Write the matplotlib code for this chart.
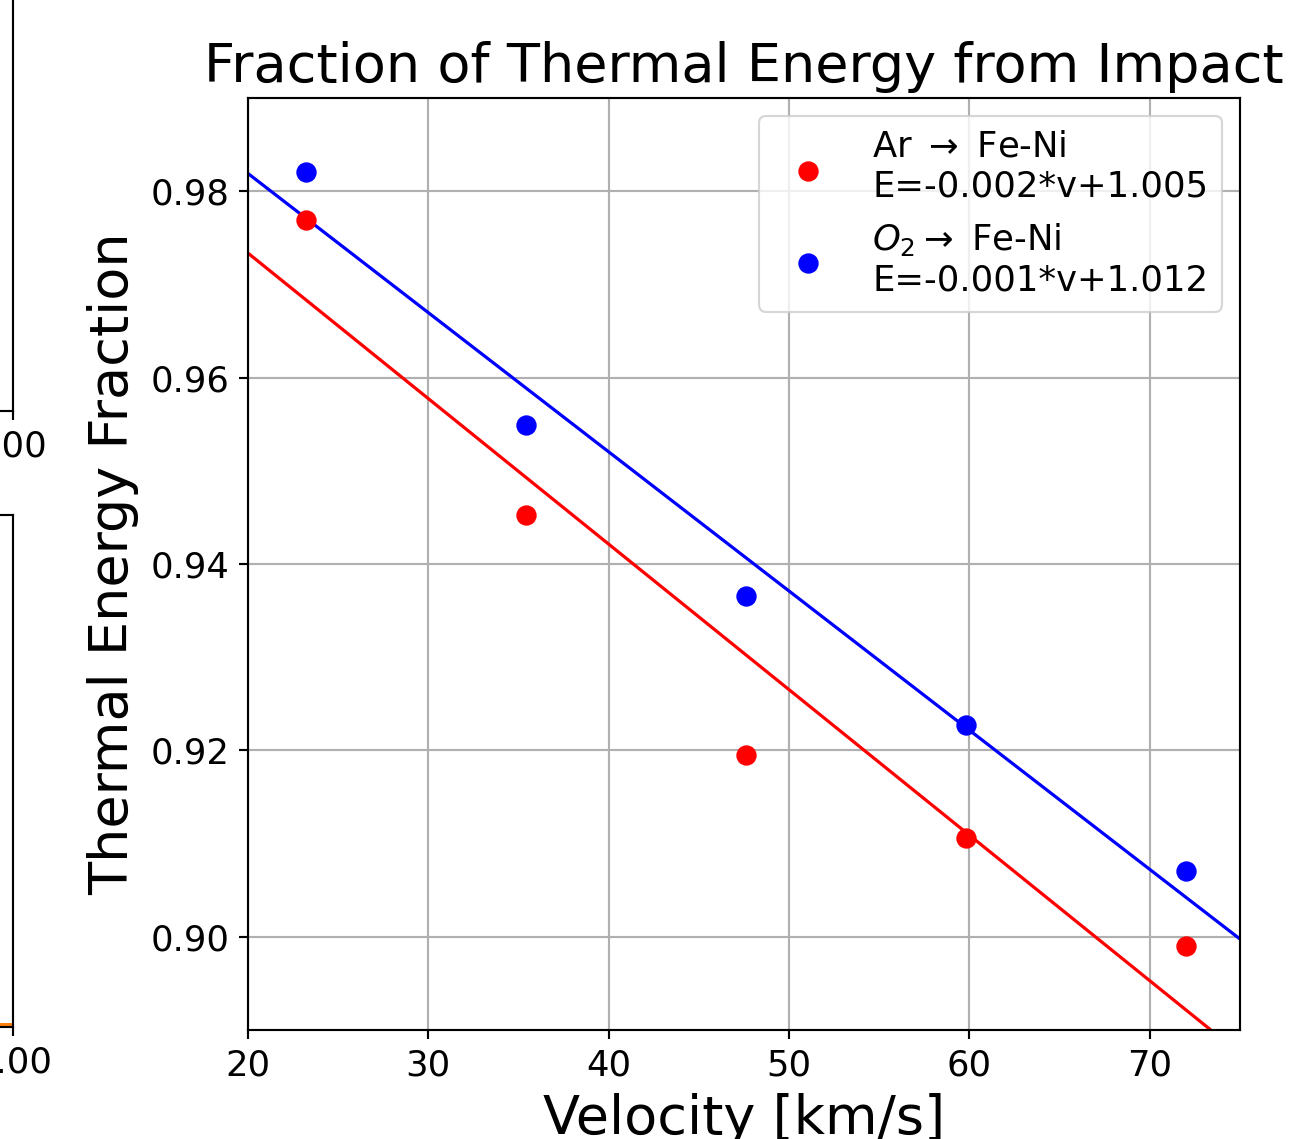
import matplotlib
matplotlib.use("Agg")
import matplotlib.pyplot as plt
import numpy as np

# impact velocities [km/s] and thermal energy fractions
velocity = [23.2, 35.4, 47.6, 59.8, 72.0]
ar_frac = [0.9769, 0.9453, 0.9195, 0.9106, 0.8990]
o2_frac = [0.9821, 0.9549, 0.9366, 0.9227, 0.9071]

ar_label = "Ar $\\rightarrow$ Fe-Ni\nE=-0.002*v+1.005"
o2_label = "$O_2 \\rightarrow$ Fe-Ni\nE=-0.001*v+1.012"

x_ticks = [20, 30, 40, 50, 60, 70]
y_ticks = [0.90, 0.92, 0.94, 0.96, 0.98]

# bits of the neighbouring panels that show at the left edge
frag_x = [0.0, 1.0]
frag_y = [0.0, 0.0]
frag_tick_top = ["100"]
frag_tick_bottom = ["1.00"]

k = 1.93  # scale of the original figure vs. matplotlib defaults at dpi 100
small = 25.5
big = 39.0
W, H = 1292, 1139

fig = plt.figure(figsize=(W / 100, H / 100), dpi=100)


def style(ax):
    for s in ax.spines.values():
        s.set_linewidth(0.8 * k)
    ax.tick_params(labelsize=small, length=3.5 * k, width=0.8 * k, pad=3.5 * k)


# fragments of other subplots
ax_a = fig.add_axes([-0.5, (H - 411) / H, 0.5 + 13 / W, 0.5])
ax_b = fig.add_axes([-0.5, (H - 1027) / H, 0.5 + 13 / W, (1027 - 515) / H])
for ax, labels in ((ax_a, frag_tick_top), (ax_b, frag_tick_bottom)):
    style(ax)
    ax.set_xlim(0, 1)
    ax.set_xticks([1.0])
    ax.set_xticklabels(labels)
    ax.set_yticks([])
ax_b.plot(frag_x, frag_y, color="C1", lw=1.5 * k)
ax_b.set_ylim(-0.01, 2.5)

# main panel
ax = fig.add_axes([248 / W, (H - 1030) / H, (1240 - 248) / W, (1030 - 98) / H])
style(ax)

xs = np.linspace(20, 75, 200)
for y, color, label in ((ar_frac, "red", ar_label), (o2_frac, "blue", o2_label)):
    ax.scatter(velocity, y, color=color, s=50 * k * k, label=label, zorder=3)
    m, b = np.polyfit(velocity, y, 1)
    ax.plot(xs, m * xs + b, color=color, lw=1.2 * k, zorder=2)

ax.set_xlim(20, 75)
ax.set_ylim(0.89, 0.99)
ax.set_xticks(x_ticks)
ax.set_yticks(y_ticks)
ax.set_yticklabels([f"{t:.2f}" for t in y_ticks])
ax.grid(True, lw=0.8 * k, color="#b0b0b0")
ax.set_axisbelow(True)

ax.set_title("Fraction of Thermal Energy from Impact", fontsize=big, pad=6 * k)
ax.set_xlabel("Velocity [km/s]", fontsize=big, labelpad=4 * k)
ax.set_ylabel("Thermal Energy Fraction", fontsize=big, labelpad=4 * k)

leg = ax.legend(loc="upper right", fontsize=small, borderaxespad=0.5,
                framealpha=0.8)
leg.get_frame().set_linewidth(0.8 * k)

fig.savefig("out.png", dpi=100)
